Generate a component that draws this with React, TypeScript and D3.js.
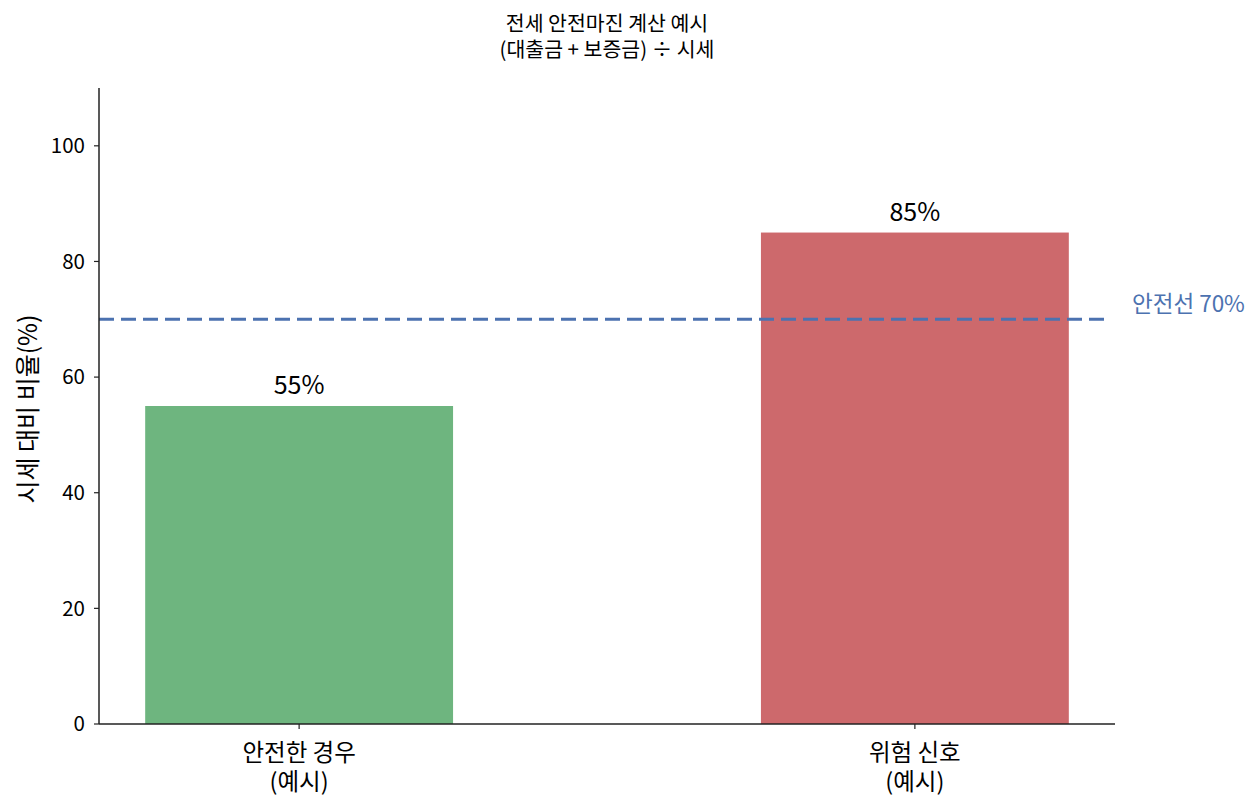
import React from "react";
import * as d3 from "d3";

const categories = ["안전한 경우\n(예시)", "위험 신호\n(예시)"];
const values = [55, 85];
const barColors = ["#6eb57f", "#cd696c"];
const yTicks = [0, 20, 40, 60, 80, 100];
const threshold = 70;
const titleLines = ["전세 안전마진 계산 예시", "(대출금 + 보증금) ÷ 시세"];
const yLabel = "시세 대비 비율(%)";
const thresholdLabel = "안전선 70%";

const W = 1260, H = 810;
const L = 99, R = 1115, T = 88, B = 724;
const FONT = "'Noto Sans CJK KR', 'Noto Sans', sans-serif";

export default function App() {
  const x = d3.scaleLinear().domain([-0.325, 1.325]).range([L, R]);
  const y = d3.scaleLinear().domain([0, 110]).range([B, T]);
  const bw = x(0.5) - x(0);
  return (
    <svg width={W} height={H} style={{ position: "absolute", left: 0, top: 0, background: "#fff" }} fontFamily={FONT}>
      <text x={(L + R) / 2} y={31} textAnchor="middle" fontSize={20.5} fill="#000">
        {titleLines.map((t, i) => (
          <tspan key={i} x={(L + R) / 2} dy={i === 0 ? 0 : 26}>{t}</tspan>
        ))}
      </text>
      {values.map((v, i) => (
        <g key={i}>
          <rect x={x(i) - bw / 2} y={y(v)} width={bw} height={y(0) - y(v)} fill={barColors[i]} />
          <text x={x(i)} y={y(v) - 12} textAnchor="middle" fontSize={25} fill="#000">{v}%</text>
        </g>
      ))}
      <line x1={L} x2={x(1.3166)} y1={y(threshold)} y2={y(threshold)} stroke="#4c72b0" strokeWidth={3} strokeDasharray="15 7" />
      <text x={1132} y={312} fontSize={22.5} fill="#4c72b0">{thresholdLabel}</text>
      <line x1={L} x2={L} y1={T} y2={B} stroke="#222" strokeWidth={1.5} />
      <line x1={L} x2={R} y1={B} y2={B} stroke="#222" strokeWidth={1.5} />
      {yTicks.map((t) => (
        <g key={t}>
          <line x1={L - 5} x2={L} y1={y(t)} y2={y(t)} stroke="#222" strokeWidth={1.2} />
          <text x={L - 14} y={y(t)} dy="0.36em" textAnchor="end" fontSize={20.5} fill="#000">{t}</text>
        </g>
      ))}
      {categories.map((c, i) => (
        <g key={i}>
          <line x1={x(i)} x2={x(i)} y1={B} y2={B + 5} stroke="#222" strokeWidth={1.2} />
          <text x={x(i)} y={761} textAnchor="middle" fontSize={23.5} fill="#000">
            {c.split("\n").map((ln, j) => (
              <tspan key={j} x={x(i)} dy={j === 0 ? 0 : 29}>{ln}</tspan>
            ))}
          </text>
        </g>
      ))}
      <text transform={`translate(37, ${(T + B) / 2 + 3}) rotate(-90)`} textAnchor="middle" fontSize={25} fill="#000">{yLabel}</text>
    </svg>
  );
}
